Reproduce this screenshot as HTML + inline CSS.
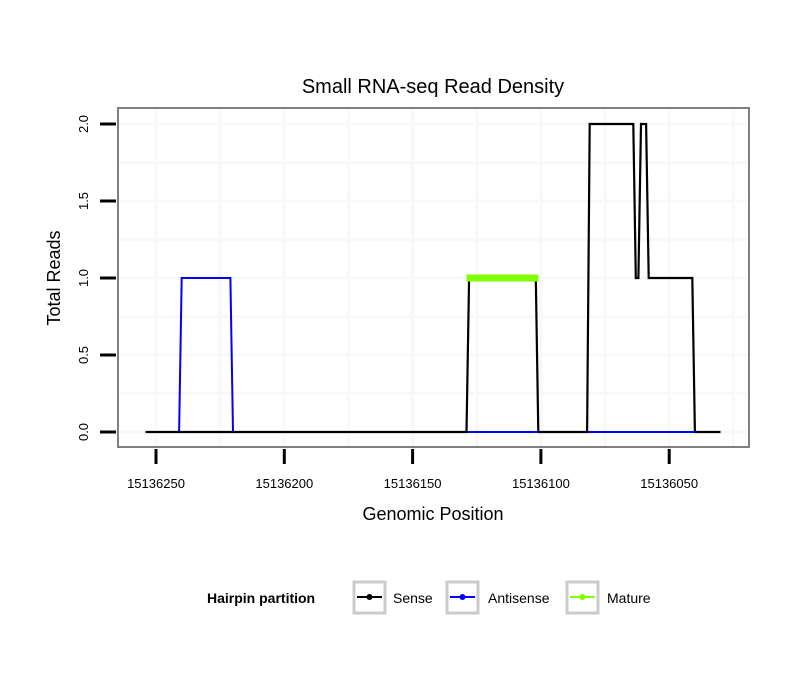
<!DOCTYPE html>
<html><head><meta charset="utf-8"><style>
body{margin:0;background:#fff;}
svg text{font-family:"Liberation Sans",sans-serif;}
</style></head><body>
<svg id="c" width="810" height="690" xmlns="http://www.w3.org/2000/svg">
<rect x="0" y="0" width="810" height="690" fill="#fff"/>
<text x="433" y="93" font-size="20" text-anchor="middle">Small RNA-seq Read Density</text>
<g id="grid"></g>
<g id="series"></g>
<rect x="118" y="108" width="631" height="339" fill="none" stroke="#808080" stroke-width="2"/>
<g id="axes"></g>
<text x="433" y="520" font-size="18" text-anchor="middle">Genomic Position</text>
<text transform="translate(60,278) rotate(-90)" font-size="18" text-anchor="middle">Total Reads</text>
<g>
<text x="207" y="603" font-size="14" font-weight="bold">Hairpin partition</text>
<g>
<rect x="354" y="582" width="31" height="31" fill="#fff" stroke="#ccc" stroke-width="3"/>
<line x1="357" y1="597" x2="382" y2="597" stroke="#000" stroke-width="2"/><circle cx="369.5" cy="597" r="3" fill="#000"/>
<text x="393" y="603" font-size="14">Sense</text></g>
<g>
<rect x="447" y="582" width="31" height="31" fill="#fff" stroke="#ccc" stroke-width="3"/>
<line x1="450" y1="597" x2="475" y2="597" stroke="#00f" stroke-width="2"/><circle cx="462.5" cy="597" r="3" fill="#00f"/>
<text x="488" y="603" font-size="14">Antisense</text></g>
<g>
<rect x="567" y="582" width="31" height="31" fill="#fff" stroke="#ccc" stroke-width="3"/>
<line x1="570" y1="597" x2="595" y2="597" stroke="#7fff00" stroke-width="2"/><circle cx="582.5" cy="597" r="3" fill="#7fff00"/>
<text x="607" y="603" font-size="14">Mature</text></g>
</g>
</svg>
<script>
const xTicks=[15136250,15136200,15136150,15136100,15136050];
const xTickLabels=["15136250","15136200","15136150","15136100","15136050"];
const yTicks=[0,0.5,1,1.5,2];
const yTickLabels=["0.0","0.5","1.0","1.5","2.0"];
const senseX=[15136254,15136129,15136128,15136102,15136101,15136082,15136081,15136064,15136063,15136062,15136061,15136059,15136058,15136041,15136040,15136030];
const senseY=[0,0,1,1,0,0,2,2,1,1,2,2,1,1,0,0];
const antisenseX=[15136254,15136241,15136240,15136221,15136220,15136030];
const antisenseY=[0,0,1,1,0,0];
const matureX=[15136129,15136101];
const matureY=[1,1];
const NS="http://www.w3.org/2000/svg";
function sx(p){return 156+(15136250-p)*2.566;}
function sy(v){return 432-v*154;}
function mk(t,a,parent){const e=document.createElementNS(NS,t);for(const k in a)e.setAttribute(k,a[k]);document.getElementById(parent).appendChild(e);return e;}
for(let i=0;i<xTicks.length;i++){
  [xTicks[i],xTicks[i]-25].forEach(p=>{if(sx(p)>748)return;const g=mk('line',{x1:sx(p),x2:sx(p),y1:109,y2:446,stroke:'#f8f8f8','stroke-width':3},'grid');
  
  });
}
for(let i=0;i<yTicks.length;i++){
  [yTicks[i],yTicks[i]+0.25].forEach(v=>{if(sy(v)<109)return;const g=mk('line',{x1:119,x2:748,y1:sy(v),y2:sy(v),stroke:'#f8f8f8','stroke-width':3},'grid');
  
  });
}
xTicks.forEach((p,i)=>{
  const t=mk('line',{x1:sx(p),x2:sx(p),y1:449,y2:464,stroke:'#000','stroke-width':3},'axes');
  
  
  const l=mk('text',{x:sx(p),y:488,'font-size':13,'text-anchor':'middle'},'axes');
  l.textContent=xTickLabels[i];
  
  
});
yTicks.forEach((v,i)=>{
  const t=mk('line',{x1:100,x2:116,y1:sy(v),y2:sy(v),stroke:'#000','stroke-width':3},'axes');
  
  
  const l=mk('text',{transform:`translate(88,${sy(v)}) rotate(-90)`,'font-size':13,'text-anchor':'middle'},'axes');
  l.textContent=yTickLabels[i];
  
  
});
function path(xs,ys){return xs.map((p,i)=>(i?'L':'M')+sx(p).toFixed(1)+','+sy(ys[i]).toFixed(1)).join(' ');}
const a=mk('path',{d:path(antisenseX,antisenseY),fill:'none',stroke:'#00f','stroke-width':2},'series');


const s=mk('path',{d:path(senseX,senseY),fill:'none',stroke:'#000','stroke-width':2.2},'series');


const m=mk('path',{d:path(matureX,matureY),fill:'none',stroke:'#7fff00','stroke-width':7},'series');


const b=mk('path',{d:path([15136128,15136101],[0,0])+' '+path([15136081,15136040],[0,0]),fill:'none',stroke:'#00f','stroke-width':2},'series');


</script>
</body></html>
